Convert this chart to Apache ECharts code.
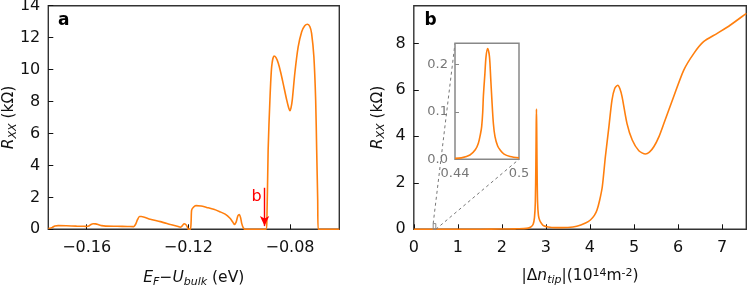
<!DOCTYPE html>
<html>
<head>
<meta charset="utf-8">
<script src="https://cdn.jsdelivr.net/npm/echarts@6/dist/echarts.min.js"></script>
<style>html,body{margin:0;padding:0;background:#fff}#c{width:747px;height:285px}</style>
</head>
<body>
<div id="c"></div>
<script>
// Panel a: R_xx vs E_F - U_bulk (eV)
const aX = [-0.1751,-0.1745,-0.1735,-0.1725,-0.1712,-0.168,-0.164,-0.161,-0.1600,-0.1592,-0.1583,-0.1575,-0.1565,-0.1555,-0.1541,-0.1525,-0.148,-0.144,-0.1415,-0.1408,-0.1400,-0.1392,-0.1385,-0.135,-0.131,-0.127,-0.1240,-0.1232,-0.1225,-0.1217,-0.1210,-0.1204,-0.1200,-0.1192,-0.1189,-0.1187,-0.1180,-0.1170,-0.1150,-0.1128,-0.110,-0.1076,-0.1055,-0.1036,-0.1025,-0.1019,-0.1012,-0.1005,-0.0999,-0.0994,-0.0990,-0.0984,-0.0978,-0.0895,-0.0891,-0.0886,-0.0879,-0.0872,-0.0863,-0.0855,-0.0846,-0.0837,-0.0827,-0.0813,-0.0805,-0.0800,-0.0796,-0.0791,-0.0781,-0.0768,-0.0754,-0.0742,-0.0731,-0.0722,-0.0715,-0.0706,-0.0699,-0.0695,-0.0691,-0.0689,-0.0606];
const aY = [0.05,0.06,0.12,0.21,0.23,0.22,0.2,0.19,0.18,0.2,0.3,0.35,0.34,0.3,0.23,0.2,0.19,0.18,0.17,0.3,0.6,0.8,0.8,0.63,0.48,0.3,0.17,0.13,0.2,0.35,0.3,0.15,0.0,0.0,0.5,1.2,1.38,1.48,1.46,1.37,1.25,1.1,0.95,0.69,0.45,0.31,0.45,0.85,0.92,0.7,0.37,0.1,0.0,0.0,0.5,4.97,8.1,10.2,10.85,10.75,10.4,9.85,9.14,8.1,7.6,7.43,7.6,8.1,9.77,11.4,12.37,12.75,12.84,12.7,12.27,10.8,8.1,4.97,1.83,0.0,0.0];
const aTicks = [-0.16,-0.12,-0.08];
const aYTicks = [0,2,4,6,8,10,12,14];
const arrowX = -0.09, arrowTop = 2.6, arrowLabelY = 2.05;

// Panel b: R_xx vs |Δn_tip| (1e14 m^-2)
const bX = [0,0.5,1,1.5,2,2.3,2.5,2.6,2.66,2.71,2.74,2.76,2.772,2.78,2.785,2.79,2.798,2.81,2.83,2.86,2.9,2.95,3.05,3.2,3.5,3.7,3.9,4.01,4.1,4.16,4.22,4.28,4.35,4.43,4.5,4.56,4.63,4.68,4.73,4.84,4.96,5.11,5.26,5.35,5.45,5.57,5.68,5.9,6.13,6.36,6.58,6.89,7.19,7.53,7.55];
const bY = [0,0,0,0.005,0.01,0.02,0.03,0.05,0.1,0.22,0.5,1.2,2.8,4.5,5.17,4.5,2.8,1.2,0.6,0.38,0.25,0.15,0.1,0.07,0.08,0.13,0.27,0.4,0.6,0.83,1.25,1.83,3.12,4.41,5.56,6.05,6.2,6.05,5.7,4.56,3.84,3.38,3.24,3.32,3.55,4.0,4.56,5.7,6.85,7.57,8.07,8.43,8.79,9.26,9.29];
const bTicks = [0,1,2,3,4,5,6,7];
const bYTicks = [0,2,4,6,8];

// Inset of panel b
const iX = [0.44,0.446,0.454,0.459,0.4619,0.464,0.465,0.466,0.4666,0.468,0.4691,0.4706,0.4723,0.4735,0.4744,0.476,0.4775,0.48,0.4822,0.486,0.4916,0.5];
const iY = [0.002,0.003,0.009,0.02,0.034,0.055,0.069,0.1,0.133,0.18,0.217,0.234,0.217,0.17,0.133,0.075,0.048,0.028,0.02,0.011,0.006,0.003];
const iXTicks = [0.44,0.5];
const iYTicks = [0,0.1,0.2];
const iXMin = 0.44, iXMax = 0.5, iYMax = 0.245;

const zip = (xs, ys) => xs.map((x, i) => [x, ys[i]]);
const ORANGE = '#ff7f0e';
const FONT = 'DejaVu Sans';
const minus = s => s.replace('-', '\u2212');

const chart = echarts.init(document.getElementById('c'), null, {renderer: 'canvas'});

const frame = {show: true, borderColor: '#333', borderWidth: 1.4, backgroundColor: 'transparent', containLabel: false, outerBoundsMode: 'none'};
const lbl = {color: '#111', fontFamily: FONT, fontSize: 16};
const tick = vals => ({show: true, inside: true, length: 5, customValues: vals, lineStyle: {color: '#111', width: 1}});

const sub = {fontFamily: FONT, fontSize: 11, fontStyle: 'italic', color: '#111', verticalAlign: 'bottom', padding: [5, 0, 0, 0]};
const sup = {fontFamily: FONT, fontSize: 11, color: '#111', verticalAlign: 'top', padding: [0, 0, 6, 0]};
const nrm = {fontFamily: FONT, fontSize: 15.5, color: '#111', lineHeight: 18};
const it = {fontFamily: FONT, fontSize: 15.5, color: '#111', fontStyle: 'italic', lineHeight: 18};
const rich = {n: nrm, i: it, s: sub, p: sup};

chart.setOption({
  animation: false,
  grid: [
    Object.assign({left: 48.3, top: 5.7, width: 291, height: 223.6}, frame),
    Object.assign({left: 413.8, top: 5.7, width: 332.5, height: 223.6}, frame),
    {show: true, left: 455, top: 43.3, width: 64, height: 116, borderColor: '#888', borderWidth: 1.5, backgroundColor: '#fff', z: 5, containLabel: false, outerBoundsMode: 'none'}
  ],
  xAxis: [
    {gridIndex: 0, type: 'value', min: -0.1751, max: -0.0606,
     axisLine: {show: false}, splitLine: {show: false},
     axisTick: tick(aTicks),
     axisLabel: Object.assign({margin: 11, customValues: aTicks, formatter: v => minus(v.toFixed(2))}, lbl),
     name: '{i|E}{s|F}{n|\u2212}{i|U}{s|bulk}{n| (eV)}', nameLocation: 'middle', nameGap: 40, nameMoveOverlap: false,
     nameTextStyle: {rich: rich}},
    {gridIndex: 1, type: 'value', min: 0, max: 7.55,
     axisLine: {show: false}, splitLine: {show: false},
     axisTick: tick(bTicks),
     axisLabel: Object.assign({margin: 11, customValues: bTicks, formatter: v => String(v)}, lbl),
     name: '{n||\u0394}{i|n}{s|tip}{n||(10}{p|14}{n|m}{p|-2}{n|)}', nameLocation: 'middle', nameGap: 38, nameMoveOverlap: false,
     nameTextStyle: {rich: rich}},
    {gridIndex: 2, type: 'value', min: iXMin, max: iXMax, z: 6,
     axisLine: {show: false}, splitLine: {show: false}, axisTick: {show: false},
     axisLabel: {margin: 8, customValues: iXTicks, color: '#777', fontFamily: FONT, fontSize: 13,
       formatter: v => (Math.abs(v - 0.5) < 1e-9 ? '0.5' : v.toFixed(2))}}
  ],
  yAxis: [
    {gridIndex: 0, type: 'value', min: 0, max: 14,
     axisLine: {show: false}, splitLine: {show: false},
     axisTick: tick(aYTicks),
     axisLabel: Object.assign({margin: 8, customValues: aYTicks, formatter: v => String(v)}, lbl),
     name: '{i|R}{s|XX}{n| (k\u03a9)}', nameLocation: 'middle', nameGap: 30, nameMoveOverlap: false,
     nameTextStyle: {rich: rich}},
    {gridIndex: 1, type: 'value', min: 0, max: 9.62,
     axisLine: {show: false}, splitLine: {show: false},
     axisTick: tick(bYTicks),
     axisLabel: Object.assign({margin: 8, customValues: bYTicks, formatter: v => String(v)}, lbl),
     name: '{i|R}{s|XX}{n| (k\u03a9)}', nameLocation: 'middle', nameGap: 27, nameMoveOverlap: false,
     nameTextStyle: {rich: rich}},
    {gridIndex: 2, type: 'value', min: 0, max: iYMax, z: 6,
     axisLine: {show: false}, splitLine: {show: false},
     axisTick: {show: true, inside: true, length: 4, customValues: [0.1, 0.2], lineStyle: {color: '#888'}},
     axisLabel: {margin: 7, customValues: iYTicks, color: '#777', fontFamily: FONT, fontSize: 13, formatter: v => v.toFixed(1)}}
  ],
  series: [
    {type: 'line', xAxisIndex: 0, yAxisIndex: 0, data: zip(aX, aY), showSymbol: false, smooth: 0.25,
     lineStyle: {color: ORANGE, width: 1.6}, z: 3,
     markLine: {silent: true, symbol: ['none', 'arrow'], symbolSize: [7, 10], animation: false,
       lineStyle: {color: '#ff0000', width: 1.4, type: 'solid'}, label: {show: false},
       data: [[{coord: [arrowX, arrowTop]}, {coord: [arrowX, 0.2]}]]}},
    {type: 'line', xAxisIndex: 1, yAxisIndex: 1, data: zip(bX, bY), showSymbol: false, smooth: 0.25,
     lineStyle: {color: ORANGE, width: 1.6}, z: 3},
    {type: 'line', xAxisIndex: 2, yAxisIndex: 2, data: zip(iX, iY), showSymbol: false, smooth: 0.3,
     lineStyle: {color: ORANGE, width: 1.6}, z: 7}
  ]
});

function px(gi, pt) { return chart.convertToPixel({gridIndex: gi}, pt); }
const boxTL = px(1, [iXMin, iYMax]);
const boxBR = px(1, [iXMax, 0]);
const insTL = px(2, [iXMin, iYMax]);
const insBR = px(2, [iXMax, 0]);
const arrowLbl = px(0, [arrowX, arrowLabelY]);
const dash = {stroke: '#777', lineWidth: 1, lineDash: [3, 3]};

chart.setOption({
  graphic: [
    {type: 'line', z: 4, shape: {x1: boxTL[0], y1: boxTL[1], x2: insTL[0], y2: insTL[1]}, style: dash, silent: true},
    {type: 'line', z: 4, shape: {x1: boxBR[0], y1: boxBR[1], x2: insBR[0], y2: insBR[1]}, style: dash, silent: true},
    {type: 'rect', z: 4, shape: {x: boxTL[0], y: boxTL[1], width: boxBR[0] - boxTL[0], height: boxBR[1] - boxTL[1]},
     style: {fill: 'none', stroke: '#888', lineWidth: 1}, silent: true},
    {type: 'text', z: 10, x: arrowLbl[0] - 3, y: arrowLbl[1],
     style: {text: 'b', fill: '#ff0000', font: '16px "DejaVu Sans"', align: 'right', verticalAlign: 'middle'}},
    {type: 'text', z: 10, x: 58, y: 20.8,
     style: {text: 'a', fill: '#000', font: 'bold 17px "DejaVu Sans"', align: 'left', verticalAlign: 'middle'}},
    {type: 'text', z: 10, x: 424.5, y: 20.8,
     style: {text: 'b', fill: '#000', font: 'bold 17px "DejaVu Sans"', align: 'left', verticalAlign: 'middle'}}
  ]
});
</script>
</body>
</html>
